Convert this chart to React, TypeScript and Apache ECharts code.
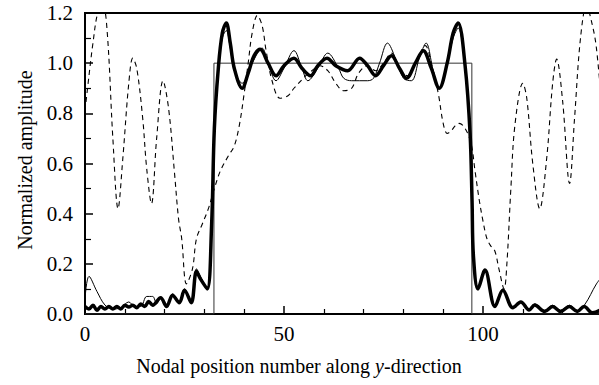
import React, { useEffect, useRef } from "react";
import * as echarts from "echarts";

// Ideal (target) rectangular profile
const idealProfile: [number, number][] = [
  [0, 0], [32.4, 0], [32.4, 1], [97.2, 1], [97.2, 0], [130, 0],
];

// Thick solid curve
const thickCurve: [number, number][] = [
  [0, 0.03], [1, 0.02], [2, 0.035], [3, 0.015], [4, 0.03], [5, 0.02], [6, 0.03], [7, 0.02],
  [8, 0.03], [9, 0.02], [10, 0.035], [11, 0.028], [12, 0.035], [13, 0.025], [14, 0.04],
  [15, 0.03], [16, 0.05], [17, 0.035], [19, 0.065], [20.5, 0.03], [22, 0.075], [23.7, 0.045],
  [25, 0.095], [26.7, 0.045], [28, 0.17], [29, 0.14], [30.7, 0.1], [31.8, 0.35], [32.5, 0.74],
  [33.5, 0.98], [34.5, 1.12], [35.5, 1.16], [36.5, 1.08], [37.5, 0.98], [39.5, 0.9], [41, 0.96],
  [42.5, 1.03], [44, 1.055], [46, 1.0], [48, 0.95], [50, 0.99], [52.5, 1.02], [54.5, 0.98],
  [56.7, 0.95], [58.5, 0.99], [60.8, 1.02], [63, 0.99], [66, 0.97], [69, 1.02], [71, 0.99],
  [73, 0.95], [75, 0.99], [77, 1.03], [79, 0.98], [80.8, 0.94], [83, 1.0], [85, 1.05],
  [87, 0.98], [89, 0.9], [91, 1.0], [92.5, 1.12], [93.75, 1.16], [95.5, 0.99], [96.75, 0.72],
  [97.25, 0.45], [97.6, 0.23], [98.75, 0.1], [100.5, 0.175], [103, 0.03], [105, 0.095],
  [107.5, 0.025], [109.5, 0.048], [111.6, 0.016], [113, 0.036], [115.5, 0.01], [117.5, 0.03],
  [119.5, 0.01], [121.7, 0.03], [123.7, 0.01], [125.4, 0.03], [127.5, 0.005], [130, 0.02],
];

// Thin solid curve
const thinCurve: [number, number][] = [
  [0, 0.06], [1, 0.15], [3, 0.09], [5, 0.036], [7, 0.02], [9, 0.025], [11, 0.048], [12.5, 0.03],
  [14, 0.03], [15.5, 0.07], [17, 0.07], [18, 0.04], [19, 0.065], [20.5, 0.035], [22, 0.08],
  [23.7, 0.05], [25, 0.1], [26.7, 0.05], [28, 0.18], [29, 0.15], [30.7, 0.1], [31.8, 0.35],
  [32.5, 0.74], [33.5, 0.98], [34.5, 1.1], [35.5, 1.13], [36.5, 1.06], [37.5, 0.97], [39.5, 0.92],
  [42, 1.0], [44.5, 1.06], [46, 1.0], [48, 0.93], [50, 0.98], [52.5, 1.05], [54.5, 0.98],
  [56, 0.93], [58.5, 0.98], [61, 1.04], [63.7, 0.98], [65, 0.94], [67, 0.93], [71, 0.93],
  [72.5, 0.94], [74, 1.0], [76, 1.08], [78, 1.02], [80, 0.94], [82, 0.93], [84, 1.02],
  [85.7, 1.08], [87.5, 0.97], [89, 0.9], [91, 1.0], [92.5, 1.1], [93.75, 1.14], [95.5, 0.98],
  [96.75, 0.7], [97.6, 0.25], [98.75, 0.1], [100.5, 0.17], [103, 0.035], [105, 0.1],
  [107.5, 0.03], [109.5, 0.05], [111.6, 0.02], [113, 0.04], [115.5, 0.015], [117.5, 0.035],
  [119.5, 0.015], [121.7, 0.035], [123.7, 0.015], [125.5, 0.036], [128.5, 0.12], [130, 0.15],
];

// Dashed curve
const dashedCurve: [number, number][] = [
  [0, 0.81], [1, 0.95], [2, 1.08], [3.2, 1.2], [4.5, 1.23], [5.6, 1.12], [7, 0.7], [8.3, 0.42],
  [9.5, 0.62], [11, 0.92], [12, 1.02], [13, 0.98], [14.5, 0.78], [15.5, 0.58], [16.7, 0.44],
  [18, 0.7], [19.6, 0.93], [21, 0.82], [22.5, 0.56], [23.5, 0.38], [24.3, 0.3], [25.5, 0.12],
  [27, 0.18], [28, 0.3], [29.5, 0.36], [31, 0.42], [32.5, 0.5], [34, 0.57], [36, 0.63],
  [37.5, 0.67], [38.75, 0.75], [40, 0.88], [41, 1.0], [42, 1.12], [43.3, 1.19], [44.5, 1.15],
  [45.5, 1.05], [47, 0.93], [49, 0.86], [51, 0.87], [52.5, 0.9], [55.5, 0.95], [57, 0.97],
  [59, 0.99], [61, 0.97], [63, 0.92], [65, 0.89], [67, 0.9], [68.75, 0.96], [71, 0.99],
  [73, 0.97], [75, 1.0], [77, 1.04], [79, 0.98], [81, 0.95], [83, 1.0], [85.5, 1.07], [87, 1.0],
  [88.75, 0.88], [90, 0.76], [91, 0.72], [92, 0.73], [93, 0.75], [94, 0.76], [95.5, 0.74],
  [97, 0.68], [98, 0.57], [99, 0.46], [100, 0.37], [101, 0.3], [102, 0.27], [103, 0.25],
  [104, 0.18], [105.3, 0.1], [106, 0.2], [107, 0.5], [108, 0.75], [110, 0.92], [111, 0.86],
  [112.5, 0.6], [114.25, 0.42], [116, 0.62], [117.5, 0.92], [118.5, 1.016], [120, 0.85],
  [121.75, 0.52], [123, 0.78], [124.5, 1.1], [126, 1.23], [127.5, 1.15], [128.5, 1.06], [130, 0.8],
];

const yTitle = "Normalized amplitude";
const xTitleParts = ["Nodal position number along ", "y", "-direction"];

const FONT = "Liberation Serif";

export default function App() {
  const ref = useRef<HTMLDivElement>(null);
  useEffect(() => {
    if (!ref.current) return;
    const chart = echarts.init(ref.current, undefined, { renderer: "svg" });
    chart.setOption({
      animation: false,
      backgroundColor: "#fff",
      grid: {
        left: 85, right: 0, top: 13, bottom: 71, containLabel: false,
        show: true, borderWidth: 2, borderColor: "#000",
      },
      xAxis: {
        type: "value", min: 0, max: 150, interval: 50,
        axisLine: { show: true, lineStyle: { color: "#000", width: 2 } },
        axisTick: { show: true, inside: true, length: 8, lineStyle: { color: "#000", width: 1.5 } },
        minorTick: { show: true, splitNumber: 5, length: 5, lineStyle: { color: "#000", width: 1.2 } },
        splitLine: { show: false },
        axisLabel: {
          color: "#000", fontFamily: FONT, fontSize: 21, margin: 9,
          formatter: (v: number) => (v <= 100 ? String(v) : ""),
        },
      },
      yAxis: {
        type: "value", min: 0, max: 1.2, interval: 0.2,
        axisLine: { show: true, lineStyle: { color: "#000", width: 2 } },
        axisTick: { show: true, inside: true, length: 8, lineStyle: { color: "#000", width: 1.5 } },
        minorTick: { show: true, splitNumber: 2, length: 6, lineStyle: { color: "#000", width: 1.2 } },
        splitLine: { show: false },
        axisLabel: {
          color: "#000", fontFamily: FONT, fontSize: 21, margin: 12,
          formatter: (v: number) => v.toFixed(1),
        },
      },
      graphic: [
        {
          type: "text", x: 25, y: 160, rotation: Math.PI / 2,
          style: {
            text: yTitle, font: `20px ${FONT}`, fill: "#000",
            textAlign: "center", textVerticalAlign: "middle",
          },
        },
        {
          type: "text", x: 299, y: 366,
          style: {
            text: `{a|${xTitleParts[0]}}{b|${xTitleParts[1]}}{a|${xTitleParts[2]}}`,
            textAlign: "center", textVerticalAlign: "middle", fill: "#000",
            rich: {
              a: { fontFamily: FONT, fontSize: 20, fill: "#000" },
              b: { fontFamily: FONT, fontSize: 20, fontStyle: "italic", fill: "#000" },
            },
          },
        },
      ],
      series: [
        {
          type: "line", data: idealProfile, symbol: "none", smooth: false,
          lineStyle: { color: "#333", width: 1 }, z: 1,
        },
        {
          type: "line", data: dashedCurve, symbol: "none", smooth: 0.35,
          lineStyle: { color: "#000", width: 1.1, type: [5, 4] }, z: 2,
        },
        {
          type: "line", data: thinCurve, symbol: "none", smooth: 0.35,
          lineStyle: { color: "#000", width: 1 }, z: 3,
        },
        {
          type: "line", data: thickCurve, symbol: "none", smooth: 0.35,
          lineStyle: { color: "#000", width: 3.5 }, z: 4,
        },
      ],
    });
    return () => chart.dispose();
  }, []);
  return (
    <div style={{ position: "fixed", left: 0, top: 0, width: 599, height: 385, overflow: "hidden", background: "#fff" }}>
      <div ref={ref} style={{ width: 685, height: 385 }} />
    </div>
  );
}
